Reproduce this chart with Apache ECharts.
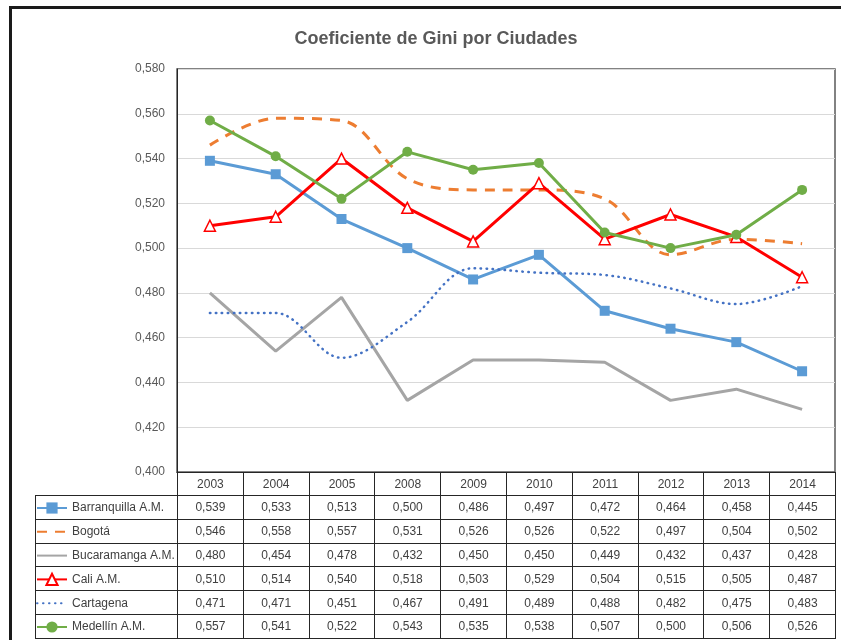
<!DOCTYPE html>
<html>
<head>
<meta charset="utf-8">
<script src="https://cdn.jsdelivr.net/npm/echarts@6/dist/echarts.min.js"></script>
<style>
  html, body { margin: 0; padding: 0; background: #fff; }
  #wrap { position: relative; width: 841px; height: 640px; overflow: hidden; }
  #frame { position: absolute; left: 9px; top: 6px; width: 900px; height: 700px;
    border-left: 3px solid #1a1a1a; border-top: 3px solid #1a1a1a; }
  #chart { position: absolute; left: 0; top: 0; width: 841px; height: 640px; }
  #tabla { position: absolute; left: 35px; top: 472px; border-collapse: collapse;
    table-layout: fixed; font-family: "Liberation Sans", Arial, sans-serif; font-size: 12px;
    color: #404040; pointer-events: none; }
  #tabla td { border: 1px solid #262626; text-align: center; padding: 0; height: 22.8px; }
  #tabla tr.head td { color: #404040; height: 22px; }
  #tabla tr.head td.blank { border: none; border-right: 1px solid #262626; border-bottom: 1px solid #262626; }
</style>
</head>
<body>
<div id="wrap">
  <div id="frame"></div>
  <div id="chart"></div>
  <table id="tabla"></table>
</div>
<script>
// datos
const years = ["2003", "2004", "2005", "2008", "2009", "2010", "2011", "2012", "2013", "2014"];
const barranquilla = [0.539, 0.533, 0.513, 0.500, 0.486, 0.497, 0.472, 0.464, 0.458, 0.445];
const bogota = [0.546, 0.558, 0.557, 0.531, 0.526, 0.526, 0.522, 0.497, 0.504, 0.502];
const bucaramanga = [0.480, 0.454, 0.478, 0.432, 0.450, 0.450, 0.449, 0.432, 0.437, 0.428];
const cali = [0.510, 0.514, 0.540, 0.518, 0.503, 0.529, 0.504, 0.515, 0.505, 0.487];
const cartagena = [0.471, 0.471, 0.451, 0.467, 0.491, 0.489, 0.488, 0.482, 0.475, 0.483];
const medellin = [0.557, 0.541, 0.522, 0.543, 0.535, 0.538, 0.507, 0.500, 0.506, 0.526];

const names = ["Barranquilla A.M.", "Bogotá", "Bucaramanga A.M.", "Cali A.M.", "Cartagena", "Medellín A.M."];
const allData = [barranquilla, bogota, bucaramanga, cali, cartagena, medellin];

const fmt = v => v.toFixed(3).replace(".", ",");

// tabla de datos
const tabla = document.getElementById("tabla");
let html = '<colgroup><col style="width:142px">';
years.forEach(() => { html += '<col style="width:65.8px">'; });
html += '</colgroup><tr class="head"><td class="blank"></td>';
years.forEach(y => { html += "<td>" + y + "</td>"; });
html += "</tr>";
allData.forEach(serie => {
  html += "<tr><td></td>";
  serie.forEach(v => { html += "<td>" + fmt(v) + "</td>"; });
  html += "</tr>";
});
tabla.innerHTML = html;

// series sin marcador: ocultar el símbolo de la leyenda
const noMarker = { opacity: 0 };

const chart = echarts.init(document.getElementById("chart"));
chart.setOption({
  animation: false,
  textStyle: { fontFamily: "Liberation Sans, Arial, sans-serif" },
  title: {
    text: "Coeficiente de Gini por Ciudades",
    left: 431,
    textAlign: "center",
    top: 25,
    textStyle: { fontSize: 18, fontWeight: "bold", color: "#595959" }
  },
  legend: {
    orient: "vertical",
    left: 36,
    top: 501,
    padding: 0,
    itemWidth: 30,
    itemHeight: 14,
    itemGap: 9.8,
    textStyle: { fontSize: 12, color: "#404040", lineHeight: 14 },
    data: [
      { name: names[0] },
      { name: names[1], itemStyle: noMarker },
      { name: names[2], itemStyle: noMarker },
      { name: names[3] },
      { name: names[4], itemStyle: noMarker },
      { name: names[5] }
    ]
  },
  grid: {
    left: 177, right: 6, top: 69, bottom: 168,
    show: true, borderColor: "#595959", borderWidth: 1.5
  },
  xAxis: {
    type: "category",
    data: years,
    boundaryGap: true,
    axisLine: { lineStyle: { color: "#262626" } },
    axisTick: { show: false },
    axisLabel: { show: false }
  },
  yAxis: {
    type: "value",
    min: 0.4, max: 0.58, interval: 0.02,
    axisLine: { show: true, lineStyle: { color: "#262626" } },
    axisTick: { show: false },
    axisLabel: { formatter: v => fmt(Math.round(v * 1000) / 1000), color: "#595959", fontSize: 12, margin: 12 },
    splitLine: { lineStyle: { color: "#d9d9d9", width: 1 } }
  },
  series: [
    {
      name: names[0], type: "line", data: barranquilla,
      symbol: "rect", symbolSize: 10,
      lineStyle: { color: "#5B9BD5", width: 3 },
      itemStyle: { color: "#5B9BD5" }
    },
    {
      name: names[1], type: "line", data: bogota,
      symbol: "none", smooth: 0.35,
      lineStyle: { color: "#ED7D31", width: 3, type: [10, 8] },
      itemStyle: { color: "#ED7D31" }
    },
    {
      name: names[2], type: "line", data: bucaramanga,
      symbol: "none",
      lineStyle: { color: "#A5A5A5", width: 3 },
      itemStyle: { color: "#A5A5A5" }
    },
    {
      name: names[3], type: "line", data: cali,
      symbol: "triangle", symbolSize: 11,
      lineStyle: { color: "#FF0000", width: 3 },
      itemStyle: { color: "#ffffff", borderColor: "#FF0000", borderWidth: 1.5 }
    },
    {
      name: names[4], type: "line", data: cartagena,
      symbol: "none", smooth: 0.35,
      lineStyle: { color: "#4472C4", width: 2.5, type: [0.5, 5.5], cap: "round" },
      itemStyle: { color: "#4472C4" }
    },
    {
      name: names[5], type: "line", data: medellin,
      symbol: "circle", symbolSize: 10,
      lineStyle: { color: "#70AD47", width: 3 },
      itemStyle: { color: "#70AD47" }
    }
  ]
});
</script>
</body>
</html>
